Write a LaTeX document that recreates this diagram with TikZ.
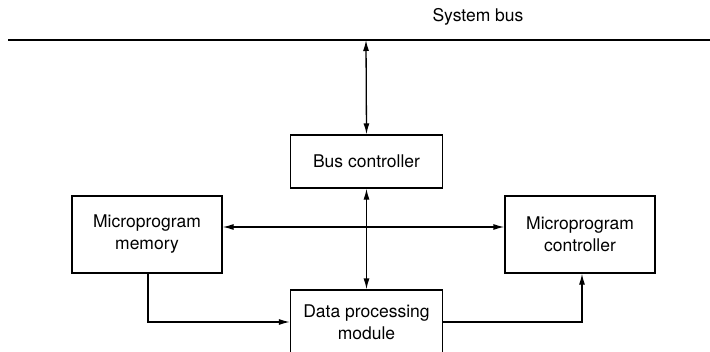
\documentclass[tikz,border=0pt]{standalone}
\usepackage{fontspec}
\setmainfont{TeX Gyre Heros}
\usetikzlibrary{arrows.meta}
\begin{document}
\begin{tikzpicture}[x=1pt,y=-1pt,
  line width=1.3pt,
  blk/.style={draw,line width=1.3pt,minimum width=152pt,align=center,font=\fontsize{17.5}{22}\selectfont,inner sep=0pt},
  arr/.style={-{Latex[length=11pt,width=6pt]}},
  darr/.style={{Latex[length=11pt,width=6pt]}-{Latex[length=11pt,width=6pt]}},
  lbl/.style={font=\fontsize{17.5}{22}\selectfont}]
\useasboundingbox (0,0) rectangle (710,351);
\clip (0,0) rectangle (710,351);
\coordinate (busL) at (8,40);
\coordinate (busR) at (710,40);
\draw (busL) -- (busR);
\node[lbl] (buslbl) at (478,17) {System bus};
\coordinate (busJ) at (366,40);
\node[blk,minimum height=53pt] (bc) at (366.5,161.5) {Bus controller};
\node[blk,minimum height=77pt,minimum width=150pt] (mm) at (147,234.5) {Microprogram\\memory};
\node[blk,minimum height=77pt,minimum width=150pt] (mc) at (580,234.5) {Microprogram\\controller};
\node[blk,minimum height=90pt,text depth=0pt] (dp) at (366.5,335) {};
\node[lbl,align=center] (dptxt) at (366.5,322) {Data processing\\module};
\draw[darr] (busJ) -- (bc.north);
\draw[darr] (bc.south) -- (dp.north);
\draw[darr] (mm.east |- 0,227) -- (mc.west |- 0,227);
\coordinate (c1) at (148,322);
\draw[arr] (mm.south -| c1) -- (c1) -- (dp.west |- c1);
\coordinate (c2) at (582,322);
\draw[arr] (dp.east |- c2) -- (c2) -- (mc.south -| c2);
\end{tikzpicture}
\end{document}
